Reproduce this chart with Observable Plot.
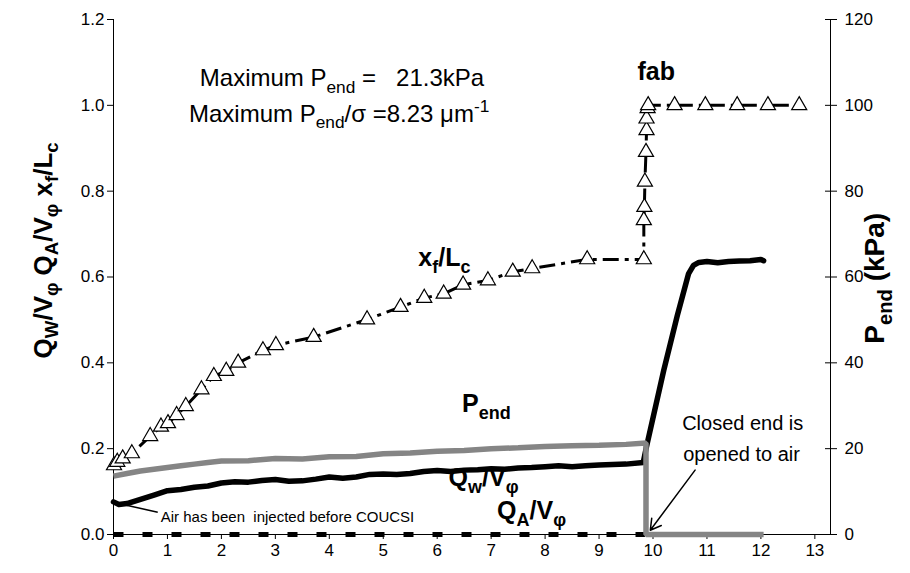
<!DOCTYPE html>
<html>
<head>
<meta charset="utf-8">
<script src="https://cdn.jsdelivr.net/npm/d3@7"></script>
<script src="https://cdn.jsdelivr.net/npm/@observablehq/plot@0.6"></script>
<style>
  html, body { margin: 0; padding: 0; background: #fff; }
  #chart text { white-space: pre; }
</style>
</head>
<body>
<div id="chart"></div>
<script>
// ---- axis ticks ----
const xTicks = [0, 1, 2, 3, 4, 5, 6, 7, 8, 9, 10, 11, 12, 13];
const yTicks = [0, 0.2, 0.4, 0.6, 0.8, 1.0, 1.2];
const xMax = 13.29;

// ---- Q_W / V_phi (black thick line) ----
const qwX = [0, 0.1, 0.25, 0.5, 0.75, 1.0, 1.25, 1.5, 1.75, 2.0, 2.25, 2.5, 2.75, 3.0, 3.25, 3.5, 3.75, 4.0, 4.25, 4.5, 4.75, 5.0, 5.25, 5.5, 5.75, 6.0, 6.25, 6.5, 6.75, 7.0, 7.25, 7.5, 7.75, 8.0, 8.25, 8.5, 8.75, 9.0, 9.25, 9.5, 9.82, 9.88, 10.2, 10.45, 10.66, 10.75, 10.85, 11.0, 11.2, 11.4, 11.6, 11.8, 12.0, 12.05];
const qwY = [0.076, 0.070, 0.072, 0.082, 0.092, 0.102, 0.105, 0.110, 0.113, 0.120, 0.123, 0.122, 0.126, 0.128, 0.124, 0.125, 0.129, 0.134, 0.131, 0.134, 0.140, 0.141, 0.140, 0.142, 0.147, 0.149, 0.147, 0.150, 0.151, 0.153, 0.152, 0.155, 0.156, 0.158, 0.160, 0.158, 0.160, 0.162, 0.163, 0.164, 0.168, 0.205, 0.383, 0.51, 0.608, 0.627, 0.634, 0.636, 0.633, 0.636, 0.637, 0.638, 0.641, 0.638];

// ---- Q_A / V_phi (dashed line at zero) ----
const qaX = [0, 9.85];
const qaY = [0, 0];

// ---- P_end in kPa (gray line, right axis) ----
const pX = [0, 0.25, 0.5, 0.75, 1.0, 1.25, 1.5, 1.75, 2.0, 2.5, 3.0, 3.5, 4.0, 4.5, 5.0, 5.5, 6.0, 6.5, 7.0, 7.5, 8.0, 8.5, 9.0, 9.5, 9.87, 9.87, 12.05];
const pKPa = [13.6, 14.2, 14.8, 15.2, 15.6, 16.0, 16.4, 16.8, 17.1, 17.2, 17.7, 17.6, 18.1, 18.2, 18.8, 19.0, 19.4, 19.6, 20.0, 20.2, 20.5, 20.7, 20.8, 21.0, 21.3, 0, 0];

// ---- x_f / L_c (triangles) ----
const xfX = [0.01, 0.07, 0.17, 0.34, 0.68, 0.88, 1.01, 1.17, 1.34, 1.63, 1.86, 2.09, 2.31, 2.77, 3.01, 3.71, 4.70, 5.32, 5.76, 6.12, 6.48, 6.94, 7.40, 7.76, 8.78, 9.83, 9.83, 9.84, 9.85, 9.87, 9.88, 9.88, 9.90, 9.91, 10.40, 10.97, 11.56, 12.13, 12.71];
const xfY = [0.161, 0.169, 0.177, 0.189, 0.229, 0.251, 0.259, 0.278, 0.299, 0.338, 0.369, 0.381, 0.400, 0.429, 0.441, 0.460, 0.501, 0.530, 0.551, 0.561, 0.582, 0.592, 0.612, 0.620, 0.641, 0.641, 0.732, 0.763, 0.822, 0.891, 0.942, 0.969, 0.993, 1.0, 1.0, 1.0, 1.0, 1.0, 1.0];

// ---- annotations ----
const notes = [
  {x: 1.60, y: 1.044, text: "Maximum P_{end} =   21.3kPa", size: 24, weight: "normal", anchor: "start"},
  {x: 1.40, y: 0.961, text: "Maximum P_{end}/σ =8.23 μm^{-1}", size: 24, weight: "normal", anchor: "start"},
  {x: 10.06, y: 1.059, text: "fab", size: 25, weight: "bold", anchor: "middle"},
  {x: 5.65, y: 0.625, text: "x_{f}/L_{c}", size: 25, weight: "bold", anchor: "start"},
  {x: 6.46, y: 0.285, text: "P_{end}", size: 25, weight: "bold", anchor: "start"},
  {x: 6.21, y: 0.112, text: "Q_{w}/V_{φ}", size: 25, weight: "bold", anchor: "start"},
  {x: 7.11, y: 0.036, text: "Q_{A}/V_{φ}", size: 25, weight: "bold", anchor: "start"},
  {x: 0.876, y: 0.029, text: "Air has been  injected before COUCSI", size: 15, weight: "normal", anchor: "start"},
  {x: 10.54, y: 0.243, text: "Closed end is", size: 20, weight: "normal", anchor: "start"},
  {x: 10.56, y: 0.171, text: "opened to air", size: 20, weight: "normal", anchor: "start"}
];
const axisTitles = [
  {x: -1.30, y: 0.662, text: "Q_{W}/V_{φ} Q_{A}/V_{φ} x_{f}/L_{c}", size: 26},
  {x: 14.12, y: 0.597, text: "P_{end} (kPa)", size: 28}
];
const airLine = [{x1: 0.82, y1: 0.052, x2: 0.135, y2: 0.071}];
const openArrow = [{x1: 10.78, y1: 0.150, x2: 9.95, y2: 0.010}];

const qw = qwX.map((x, i) => ({x, y: qwY[i]}));
const qa = qaX.map((x, i) => ({x, y: qaY[i]}));
const pend = pX.map((x, i) => ({x, kpa: pKPa[i]}));
const xf = xfX.map((x, i) => ({x, y: xfY[i]}));

const textMarks = notes.map(n => Plot.text([n], {
  x: "x", y: "y", text: "text", fontSize: n.size, fontWeight: n.weight,
  textAnchor: n.anchor, lineAnchor: "bottom", fill: "black",
  className: "rich rich-" + n.size
}));
const titleMarks = axisTitles.map(n => Plot.text([n], {
  x: "x", y: "y", text: "text", fontSize: n.size, fontWeight: "bold",
  rotate: -90, textAnchor: "middle", lineAnchor: "middle", fill: "black",
  className: "rich rich-" + n.size
}));

const chart = Plot.plot({
  width: 910,
  height: 573,
  marginLeft: 113,
  marginRight: 80,
  marginTop: 19,
  marginBottom: 39,
  x: {domain: [0, xMax]},
  y: {domain: [0, 1.2]},
  style: {fontFamily: "'Liberation Sans', Arial, sans-serif", fontSize: "17px", color: "black", background: "white"},
  marks: [
    Plot.axisX({ticks: xTicks, tickSize: 5, tickPadding: 4, tickFormat: d => String(d), label: null, fontSize: 17}),
    Plot.axisY({ticks: yTicks, tickSize: 6, tickPadding: 3, tickFormat: d => d.toFixed(1), label: null, fontSize: 17}),
    Plot.axisY({anchor: "right", ticks: yTicks, tickSize: 12, dx: -6, tickFormat: () => "", label: null}),
    Plot.axisY({anchor: "right", ticks: yTicks, tickSize: 0, tickPadding: 14, tickFormat: d => String(Math.round(d * 100)), label: null, fontSize: 17}),
    Plot.ruleX([0, xMax], {stroke: "black", strokeWidth: 1}),
    Plot.ruleY([0], {stroke: "black", strokeWidth: 1}),
    Plot.line(qa, {x: "x", y: "y", stroke: "black", strokeWidth: 5, strokeDasharray: "10,19", strokeLinecap: "butt"}),
    Plot.line(qw, {x: "x", y: "y", stroke: "black", strokeWidth: 5.5, strokeLinejoin: "round", strokeLinecap: "round"}),
    Plot.line(pend, {x: "x", y: d => d.kpa / 100, stroke: "#858585", strokeWidth: 5.5, strokeLinejoin: "miter", strokeLinecap: "butt"}),
    Plot.line(xf, {x: "x", y: "y", stroke: "black", strokeWidth: 3, strokeDasharray: "16,6,4,6", strokeLinecap: "butt"}),
    Plot.dot(xf, {x: "x", y: "y", symbol: "triangle", r: 5.6, fill: "white", stroke: "black", strokeWidth: 1.2}),
    Plot.link(airLine, {x1: "x1", y1: "y1", x2: "x2", y2: "y2", stroke: "black", strokeWidth: 1.5}),
    Plot.arrow(openArrow, {x1: "x1", y1: "y1", x2: "x2", y2: "y2", stroke: "black", strokeWidth: 1.5, headLength: 12, bend: 0}),
    ...textMarks,
    ...titleMarks
  ]
});

// Rich text: convert _{..} and ^{..} into sub/superscript tspans
const svgns = "http://www.w3.org/2000/svg";
function richify(el, fs) {
  const s = el.textContent;
  while (el.firstChild) el.removeChild(el.firstChild);
  const re = /([_^])\{([^}]*)\}/g;
  const parts = [];
  let last = 0, m;
  while ((m = re.exec(s))) {
    if (m.index > last) parts.push({t: s.slice(last, m.index), k: ""});
    parts.push({t: m[2], k: m[1]});
    last = re.lastIndex;
  }
  if (last < s.length) parts.push({t: s.slice(last), k: ""});
  let cur = 0;
  for (const p of parts) {
    const ts = document.createElementNS(svgns, "tspan");
    const target = p.k === "_" ? fs * 0.26 : p.k === "^" ? -fs * 0.4 : 0;
    ts.setAttribute("dy", (target - cur).toFixed(2));
    cur = target;
    if (p.k) ts.setAttribute("font-size", (fs * 0.72).toFixed(1));
    ts.textContent = p.t;
    el.appendChild(ts);
  }
}
d3.select(chart).selectAll("g.rich").each(function() {
  const cls = Array.from(this.classList).find(c => /^rich-\d+/.test(c));
  const fs = cls ? +cls.split("-")[1] : 16;
  d3.select(this).selectAll("text").each(function() { richify(this, fs); });
});

document.getElementById("chart").appendChild(chart);
</script>
</body>
</html>
